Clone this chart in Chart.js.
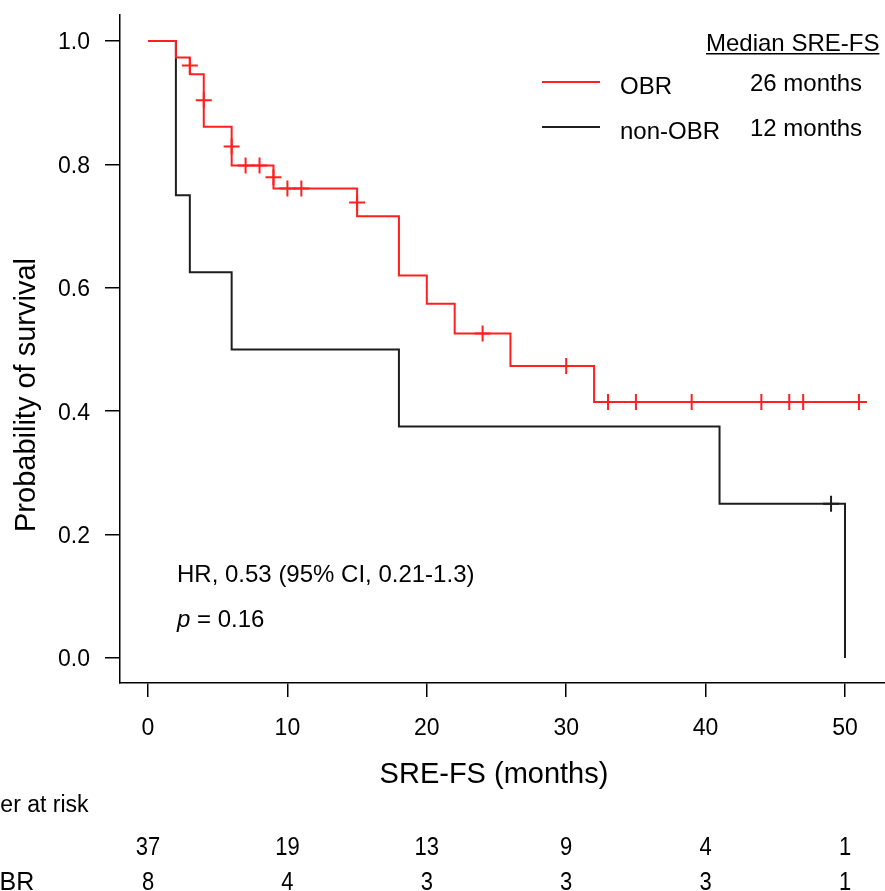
<!DOCTYPE html>
<html>
<head>
<meta charset="utf-8">
<script src="https://cdn.jsdelivr.net/npm/chart.js@4.4.1/dist/chart.umd.min.js"></script>
<style>
html, body { margin:0; padding:0; background:#fff; }
#wrap { width:885px; height:891px; }
</style>
</head>
<body>
<div id="wrap"><canvas id="km" width="885" height="891"></canvas></div>
<script>
var groupNames = ['OBR', 'non-OBR'];
var medianLabels = ['26 months', '12 months'];
var groupColors = ['#ff1f1f', '#1e1e1e'];

// KM steps: time of drop, survival after the drop
var obrTimes = [0, 2, 3, 4, 6, 9, 15, 18, 20, 22, 26, 32, 51.5];
var obrSurv = [1.0, 0.973, 0.946, 0.861, 0.798, 0.761, 0.716, 0.620, 0.574, 0.526, 0.473, 0.415, 0.415];
var nonTimes = [0, 2, 3, 6, 18, 41, 50];
var nonSurv = [1.0, 0.75, 0.625, 0.5, 0.375, 0.25, 0.0];

// censor marks
var obrCensorTimes = [3, 4, 6, 7, 8, 9, 10, 11, 15, 24, 30, 33, 35, 39, 44, 46, 47, 51];
var obrCensorSurv = [0.960, 0.904, 0.829, 0.798, 0.798, 0.779, 0.761, 0.761, 0.738, 0.526, 0.473, 0.415, 0.415, 0.415, 0.415, 0.415, 0.415, 0.415];
var nonCensorTimes = [49];
var nonCensorSurv = [0.25];

var xTicks = [0, 10, 20, 30, 40, 50];
var yTicks = [0, 0.2, 0.4, 0.6, 0.8, 1.0];

var riskTimes = [0, 10, 20, 30, 40, 50];
var riskOBR = [37, 19, 13, 9, 4, 1];
var riskNonOBR = [8, 4, 3, 3, 3, 1];

var xTitle = 'SRE-FS (months)';
var yTitle = 'Probability of survival';

var FONT = '"Liberation Sans", Arial, sans-serif';

function pairs(xs, ys)
{
	return xs.map(function(x, i){ return { x: x, y: ys[i] }; });
}

// keep the plot box fixed: no extra room for edge labels
function noEdgePadding(s)
{
	s.paddingLeft = 0;
	s.paddingRight = 0;
	s.paddingTop = 0;
	s.paddingBottom = 0;
}

var kmExtras = {
	id: 'kmExtras',
	afterDraw: function(chart)
	{
		var ctx = chart.ctx;
		var xs = chart.scales.x;
		ctx.save();
		ctx.fillStyle = '#000';
		ctx.textBaseline = 'alphabetic';

		// axis titles (placed off-centre like the original)
		ctx.font = '29px ' + FONT;
		ctx.textAlign = 'center';
		ctx.fillText(xTitle, 494, 783);
		ctx.save();
		ctx.translate(35, 395);
		ctx.rotate(-Math.PI / 2);
		ctx.fillText(yTitle, 0, 0);
		ctx.restore();

		ctx.textAlign = 'left';

		// legend with medians
		ctx.font = '24px ' + FONT;
		ctx.fillText('Median SRE-FS', 706, 51);
		ctx.fillRect(706, 53, ctx.measureText('Median SRE-FS').width, 1.5);

		var rowY = [82, 127];
		for (var i = 0; i < groupNames.length; i++)
		{
			ctx.strokeStyle = groupColors[i];
			ctx.lineWidth = 2;
			ctx.beginPath();
			ctx.moveTo(542, rowY[i]);
			ctx.lineTo(600, rowY[i]);
			ctx.stroke();
			ctx.fillText(groupNames[i], 620, rowY[i] + 12);
			ctx.fillText(medianLabels[i], 750, rowY[i] + 9);
		}

		// stats
		ctx.fillText('HR, 0.53 (95% CI, 0.21-1.3)', 177, 582);
		ctx.font = 'italic 24px ' + FONT;
		ctx.fillText('p', 177, 627);
		var pw = ctx.measureText('p').width;
		ctx.font = '24px ' + FONT;
		ctx.fillText(' = 0.16', 177 + pw, 627);

		// number at risk
		ctx.font = '23px ' + FONT;
		ctx.fillText('Number at risk', -61, 812);

		var rows = [riskOBR, riskNonOBR];
		var baseY = [855, 890];
		for (var r = 0; r < rows.length; r++)
		{
			ctx.font = '25px ' + FONT;
			ctx.textAlign = 'left';
			ctx.fillText(groupNames[r], -70, baseY[r]);
			ctx.save();
			ctx.translate(0, baseY[r]);
			ctx.scale(0.88, 1);
			ctx.textAlign = 'center';
			for (var k = 0; k < riskTimes.length; k++)
			{
				var px = xs.getPixelForValue(riskTimes[k]);
				ctx.fillText(String(rows[r][k]), px / 0.88, 0);
			}
			ctx.restore();
		}
		ctx.restore();
	}
};

new Chart(document.getElementById('km'), {
	type: 'line',
	data: {
		datasets: [
			{
				label: groupNames[0],
				data: pairs(obrTimes, obrSurv),
				borderColor: groupColors[0],
				borderWidth: 2,
				pointRadius: 0,
				stepped: true,
				fill: false
			},
			{
				label: groupNames[0] + ' censored',
				type: 'scatter',
				data: pairs(obrCensorTimes, obrCensorSurv),
				showLine: false,
				pointStyle: 'cross',
				pointRadius: 8,
				borderColor: groupColors[0],
				borderWidth: 2
			},
			{
				label: groupNames[1],
				data: pairs(nonTimes, nonSurv),
				borderColor: groupColors[1],
				borderWidth: 2,
				pointRadius: 0,
				stepped: true,
				fill: false
			},
			{
				label: groupNames[1] + ' censored',
				type: 'scatter',
				data: pairs(nonCensorTimes, nonCensorSurv),
				showLine: false,
				pointStyle: 'cross',
				pointRadius: 8,
				borderColor: groupColors[1],
				borderWidth: 2
			}
		]
	},
	options: {
		responsive: false,
		animation: false,
		devicePixelRatio: 1,
		layout: { autoPadding: false, padding: { top: 15, right: 0, bottom: 98, left: 0 } },
		plugins: {
			legend: { display: false },
			tooltip: { enabled: false }
		},
		scales: {
			x: {
				type: 'linear',
				min: -2.01,
				max: 52.87,
				afterBuildTicks: function(s){ s.ticks = xTicks.map(function(v){ return { value: v }; }); },
				afterFit: function(s){ s.height = 110; noEdgePadding(s); },
				ticks: {
					color: '#000',
					font: { family: FONT, size: 23 },
					padding: 18,
					maxRotation: 0,
					callback: function(v){ return String(v); }
				},
				grid: { drawOnChartArea: false, drawTicks: true, tickLength: 14, color: '#000', lineWidth: 1.5 },
				border: { display: true, color: '#000', width: 1.5 },
				title: { display: false }
			},
			y: {
				type: 'linear',
				min: -0.0405,
				max: 1.042,
				afterBuildTicks: function(s){ s.ticks = yTicks.map(function(v){ return { value: v }; }); },
				afterFit: function(s){ s.width = 120; noEdgePadding(s); },
				ticks: {
					color: '#000',
					font: { family: FONT, size: 23 },
					padding: 15,
					labelOffset: 2,
					callback: function(v){ return v.toFixed(1); }
				},
				grid: { drawOnChartArea: false, drawTicks: true, tickLength: 15, color: '#000', lineWidth: 1.5 },
				border: { display: true, color: '#000', width: 1.5 },
				title: { display: false }
			}
		}
	},
	plugins: [kmExtras]
});
</script>
</body>
</html>
